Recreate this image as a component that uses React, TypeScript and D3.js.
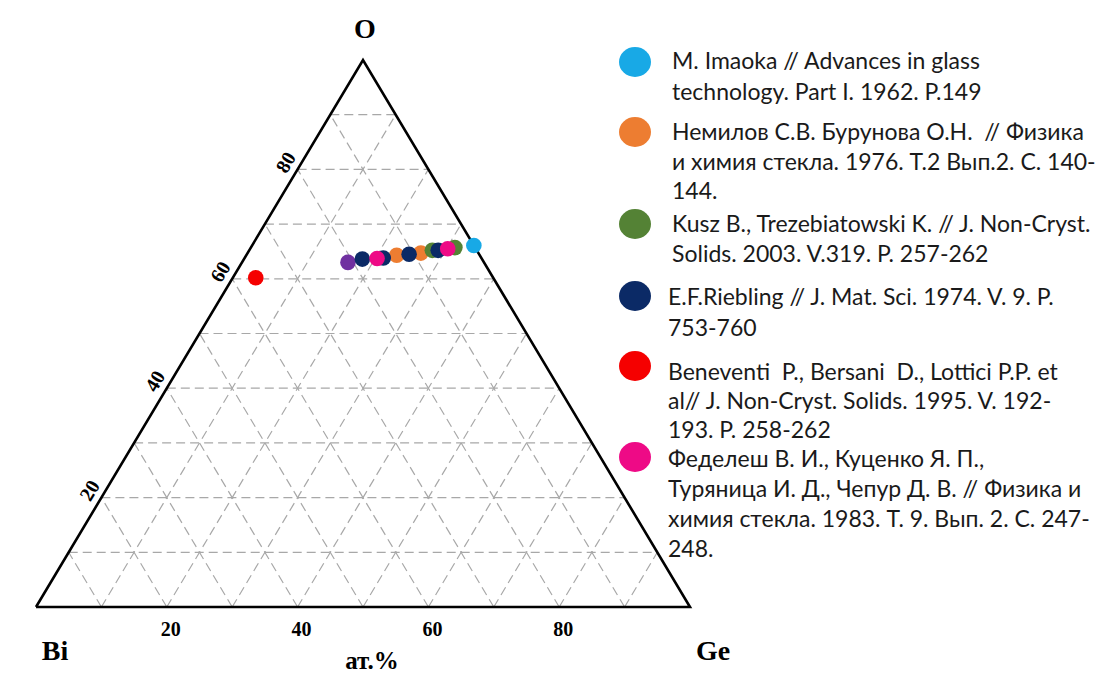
import React from "react";
import * as d3 from "d3";

type Pt = { bi: number; ge: number; o: number };

// Series (Bi, Ge, O at.%)
const imaoka: Pt[] = [{ bi: 0, ge: 33.9, o: 66.1 }];
const nemilov: Pt[] = [
  { bi: 12.7, ge: 23.0, o: 64.3 },
  { bi: 8.8, ge: 26.5, o: 64.7 },
];
const kusz: Pt[] = [
  { bi: 6.8, ge: 28.0, o: 65.2 },
  { bi: 3.1, ge: 31.2, o: 65.7 },
];
const riebling: Pt[] = [
  { bi: 18.3, ge: 18.1, o: 63.6 },
  { bi: 15.0, ge: 21.2, o: 63.8 },
  { bi: 10.7, ge: 24.8, o: 64.5 },
  { bi: 5.9, ge: 28.9, o: 65.2 },
];
const beneventi: Pt[] = [{ bi: 36.3, ge: 3.5, o: 60.2 }];
const fedelesh: Pt[] = [
  { bi: 16.0, ge: 20.3, o: 63.7 },
  { bi: 4.3, ge: 30.2, o: 65.5 },
];
const unlisted: Pt[] = [{ bi: 20.8, ge: 16.2, o: 63.0 }];

const gridSteps = [10, 20, 30, 40, 50, 60, 70, 80, 90];
const tickLabels = [20, 40, 60, 80];

const legendColors = ["#18A9E6", "#ED7D31", "#548235", "#0B2A66", "#F50000", "#EE0A86"];
const legendTexts: string[][] = [
  ["M. Imaoka // Advances in glass", "technology. Part I. 1962. P.149"],
  ["Немилов С.В. Бурунова О.Н.  // Физика", "и химия стекла. 1976. Т.2 Вып.2. С. 140-", "144."],
  ["Kusz B., Trezebiatowski K. // J. Non-Cryst.", "Solids. 2003. V.319. P. 257-262"],
  ["E.F.Riebling // J. Mat. Sci. 1974. V. 9. P.", "753-760"],
  ["Beneventi  P., Bersani  D., Lottici P.P. et", "al// J. Non-Cryst. Solids. 1995. V. 192-", "193. P. 258-262"],
  ["Феделеш В. И., Куценко Я. П.,", "Туряница И. Д., Чепур Д. В. // Физика и", "химия стекла. 1983. Т. 9. Вып. 2. С. 247-", "248."],
];
const legendLineY: number[][] = [
  [60, 91],
  [131, 161, 190],
  [223, 253],
  [296, 327],
  [371, 400, 429],
  [458, 488, 518, 548],
];
const legendCircleY = [62, 132, 224, 296, 366, 457];
const legendTextX = [672, 672, 672, 668, 668, 668];

const drawOrder: { data: Pt[]; color: string }[] = [
  { data: unlisted, color: "#7030A0" },
  { data: nemilov, color: legendColors[1] },
  { data: kusz, color: legendColors[2] },
  { data: riebling, color: legendColors[3] },
  { data: beneventi, color: legendColors[4] },
  { data: imaoka, color: legendColors[0] },
  { data: fedelesh, color: legendColors[5] },
];

export default function App() {
  const W = 1101, H = 673;
  const xS = d3.scaleLinear().domain([0, 100]).range([36, 690]);
  const yS = d3.scaleLinear().domain([0, 100]).range([607, 60]);
  const px = (p: Pt) => xS(p.ge + p.o / 2);
  const py = (p: Pt) => yS(p.o);

  const line = d3.line<Pt>().x(px).y(py);
  const tri: Pt[] = [
    { bi: 100, ge: 0, o: 0 },
    { bi: 0, ge: 100, o: 0 },
    { bi: 0, ge: 0, o: 100 },
    { bi: 100, ge: 0, o: 0 },
  ];

  const grid: Pt[][] = [];
  gridSteps.forEach((k) => {
    grid.push([{ bi: 100 - k, ge: 0, o: k }, { bi: 0, ge: 100 - k, o: k }]);
    grid.push([{ bi: 100 - k, ge: k, o: 0 }, { bi: 0, ge: k, o: 100 - k }]);
    grid.push([{ bi: k, ge: 100 - k, o: 0 }, { bi: k, ge: 0, o: 100 - k }]);
  });

  const leftAngle = (Math.atan2(yS(100) - yS(0), xS(50) - xS(0)) * 180) / Math.PI;
  const edx = xS(50) - xS(0), edy = yS(100) - yS(0);
  const len = Math.hypot(edx, edy);
  const nx = edy / len, ny = -edx / len; // outward normal (left/up)

  const serif = "'Liberation Serif', 'Times New Roman', serif";
  const sans = "Lato, 'Open Sans', sans-serif";

  return (
    <svg width={W} height={H} style={{ display: "block", position: "absolute", left: 0, top: 0 }}>
      <rect width={W} height={H} fill="#fff" />
      {grid.map((g, i) => (
        <path key={i} d={line(g) || ""} stroke="#a8a8a8" strokeWidth={1.2} strokeDasharray="9,5" fill="none" />
      ))}
      <path d={line(tri) || ""} stroke="#000" strokeWidth={2.6} fill="none" strokeLinejoin="miter" />

      {drawOrder.map((s, i) =>
        s.data.map((p, j) => (
          <circle key={`${i}-${j}`} cx={px(p)} cy={py(p)} r={7.8} fill={s.color} />
        ))
      )}

      {tickLabels.map((t) => {
        const p: Pt = { bi: 100 - t, ge: 0, o: t };
        const x = px(p) + nx * 14, y = py(p) + ny * 14;
        return (
          <text key={`l${t}`} x={x} y={y} transform={`rotate(${leftAngle},${x},${y})`} textAnchor="middle"
            dominantBaseline="central" fontFamily={serif} fontWeight="bold" fontSize={20}>{t}</text>
        );
      })}
      {tickLabels.map((t) => (
        <text key={`b${t}`} x={xS(t) + 4} y={629} textAnchor="middle" dominantBaseline="central"
          fontFamily={serif} fontWeight="bold" fontSize={20}>{t}</text>
      ))}

      <text x={365} y={28} textAnchor="middle" dominantBaseline="central" fontFamily={serif} fontWeight="bold" fontSize={28}>O</text>
      <text x={55} y={650} textAnchor="middle" dominantBaseline="central" fontFamily={serif} fontWeight="bold" fontSize={28}>Bi</text>
      <text x={713} y={650} textAnchor="middle" dominantBaseline="central" fontFamily={serif} fontWeight="bold" fontSize={28}>Ge</text>
      <text x={372} y={660} textAnchor="middle" dominantBaseline="central" fontFamily={serif} fontWeight="bold" fontSize={25}>ат.%</text>

      {legendTexts.map((lines, i) => (
        <g key={`lg${i}`}>
          <ellipse cx={635} cy={legendCircleY[i]} rx={16} ry={15} fill={legendColors[i]} />
          {lines.map((tx, j) => (
            <text key={j} x={legendTextX[i]} y={legendLineY[i][j]} dominantBaseline="central"
              fontFamily={sans} fontSize={23} fill="#1a1a1a" style={{ whiteSpace: "pre" }}>{tx}</text>
          ))}
        </g>
      ))}
    </svg>
  );
}
